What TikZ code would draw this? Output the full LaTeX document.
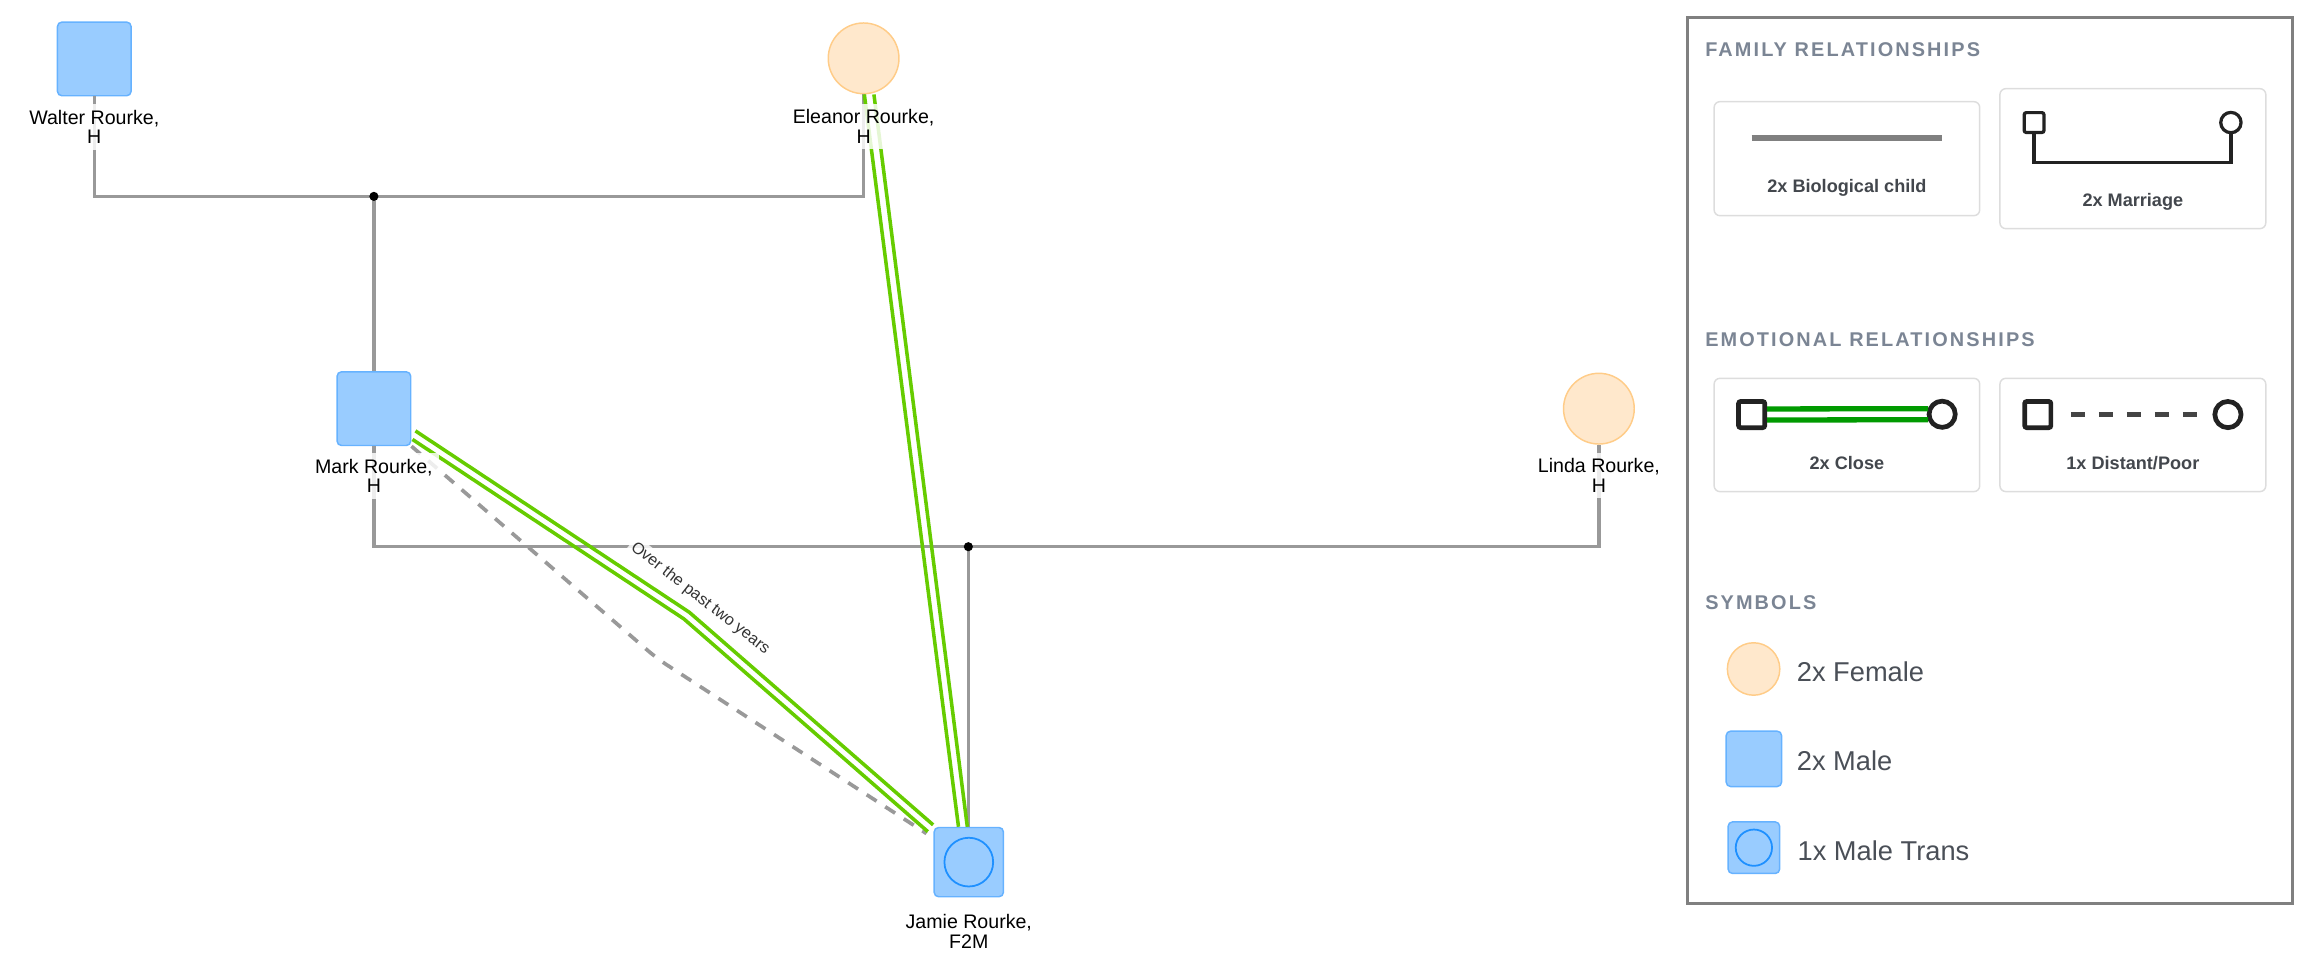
\documentclass[tikz,border=0pt]{standalone}
\usepackage{fontspec}
\setmainfont{Liberation Sans}
\newfontfamily\titlefont[LetterSpace=10.7]{Liberation Sans}
\usetikzlibrary{positioning,calc}
\definecolor{linegray}{HTML}{999999}
\definecolor{malefill}{HTML}{99CCFF}
\definecolor{maledraw}{HTML}{66B2FF}
\definecolor{femfill}{HTML}{FFE8CC}
\definecolor{femdraw}{HTML}{FFCC88}
\definecolor{transblue}{HTML}{1E90FF}
\definecolor{closegreen}{HTML}{66CC00}
\definecolor{leggreen}{HTML}{009A00}
\definecolor{titlegray}{HTML}{7B8594}
\definecolor{legtext}{HTML}{4A4F57}
\definecolor{cardtextc}{HTML}{43474D}
\definecolor{cardgray}{HTML}{DDDDDD}
\definecolor{darkline}{HTML}{222222}
\definecolor{framegray}{HTML}{808080}
\definecolor{distgray}{HTML}{444444}

\begin{document}
\begin{tikzpicture}[x=1pt,y=-1pt,
  male/.style={rectangle,draw=maledraw,fill=malefill,line width=1pt,rounded corners=3pt,minimum size=50pt,inner sep=0pt},
  female/.style={circle,draw=femdraw,fill=femfill,line width=1pt,minimum size=48pt,inner sep=0pt},
  transmale/.style={male,minimum size=#1,path picture={\draw[transblue,line width=1.2pt] (path picture bounding box.center) circle ({0.352*#1});}},
  plabel/.style={align=center,font=\fontsize{13.3}{13.2}\selectfont,fill=white,fill opacity=0.83,text opacity=1,inner sep=4pt},
  famline/.style={draw=linegray,line width=2.3pt},
  closeline/.style={draw=closegreen,line width=2.4pt,line join=round},
  distline/.style={draw=linegray,line width=2.5pt,dash pattern=on 8pt off 7pt,rounded corners=8pt},
  legtitle/.style={anchor=base west,inner sep=0pt,text=titlegray,font=\titlefont\bfseries\fontsize{13.5}{16}\selectfont},
  legcard/.style={draw=cardgray,line width=1pt,rounded corners=4pt,fill=white,inner sep=0pt},
  cardtext/.style={anchor=base,inner sep=0pt,text=cardtextc,font=\bfseries\fontsize{12.3}{14}\selectfont},
  legsq/.style={rectangle,draw=darkline,fill=white,rounded corners=1.5pt,inner sep=0pt},
  legci/.style={circle,draw=darkline,fill=white,inner sep=0pt},
  symtext/.style={anchor=base west,inner sep=0pt,text=legtext,font=\fontsize{18.5}{22}\selectfont}]
\useasboundingbox (0,0) rectangle (1568,665.2);

\node[male] (walter) at (64,40) {};
\node[female] (eleanor) at (586.2,39.6) {};
\node[male] (mark) at (253.8,277.4) {};
\node[female] (linda) at (1085.3,277.4) {};
\node[transmale=47pt] (jamie) at (657.6,585.2) {};

\coordinate (wed1) at (253.8,133.3);
\coordinate (wed2) at (657.3,371.1);
\draw[famline] (walter.south) |- (wed1) -| (eleanor.south);
\draw[famline] (wed1) -- (mark.north);
\draw[famline] (mark.south) |- (wed2) -| (linda.south);
\draw[famline] (wed2) -- (wed2 |- jamie.north);
\fill (wed1) circle (3.1pt);
\fill (wed2) circle (3.1pt);

\draw[closeline] ($(eleanor.south)+(0.5,0)$) -- ($(jamie.north)+(-7,0)$);
\draw[closeline] ($(eleanor.south)+(7,0)$) -- ($(jamie.north)+(-1,0)$);
\draw[distline] (mark.south east) -- (446,447) -- ($(jamie.north west)+(-4.7,4.6)$);
\draw[closeline] ($(mark.south east)+(2.7,-10.4)$) -- (467.9,415.6) -- ($(jamie.north west)+(-0.2,-1.3)$);
\draw[closeline] ($(mark.south east)+(0.7,-4.6)$) -- (464.2,420.1) -- ($(jamie.north west)+(-3.8,3.3)$);

\node[plabel,below=30.5pt of walter.center] (walterlbl) {Walter Rourke,\\H};
\node[plabel,below=30.5pt of eleanor.center] (eleanorlbl) {Eleanor Rourke,\\H};
\node[plabel,below=30pt of mark.center] (marklbl) {Mark Rourke,\\H};
\node[plabel,below=29.6pt of linda.center] (lindalbl) {Linda Rourke,\\H};
\node[plabel,below=31.3pt of jamie.center] (jamielbl) {Jamie Rourke,\\F2M};
\node[rotate=-38,fill=white,fill opacity=0.83,text opacity=1,inner sep=2pt,text=black!80,font=\fontsize{11}{13}\selectfont] (pastyrs) at (475.2,406.2) {Over the past two years};

\draw[framegray,line width=1.8pt] (1145.3,11.8) rectangle (1556,613.2);
\node[legtitle] (famtitle) at (1157.3,38.5) {FAMILY RELATIONSHIPS};
\node[legtitle] (emotitle) at (1157.3,235.3) {EMOTIONAL RELATIONSHIPS};
\node[legtitle] (symtitle) at (1157.3,413.6) {SYMBOLS};

\node[legcard,minimum width=180.3pt,minimum height=77.4pt] (cardbio) at (1253.65,107.7) {};
\node[legcard,minimum width=180.5pt,minimum height=95pt] (cardmar) at (1447.75,107.7) {};
\node[legcard,minimum width=180.3pt,minimum height=76.9pt] (cardclose) at (1253.65,295.25) {};
\node[legcard,minimum width=180.5pt,minimum height=76.9pt] (carddist) at (1447.75,295.25) {};

\draw[framegray,line width=3.9pt] (1189,93.5) -- (1318.5,93.5);
\node[cardtext] (biotxt) at (1253.65,130.8) {2x Biological child};

\node[legsq,line width=2.2pt,minimum size=13.5pt] (marsq) at (1380.7,83.2) {};
\node[legci,line width=2.2pt,minimum size=13.8pt] (marci) at (1514.3,83.2) {};
\draw[darkline,line width=2.2pt] (marsq.south) |- (1447.5,110.4) -| (marci.south);
\node[cardtext] (martxt) at (1447.75,140) {2x Marriage};

\node[legsq,line width=3.2pt,minimum size=17.8pt] (closesq) at (1189,281.4) {};
\node[legci,line width=3.2pt,minimum size=17.8pt] (closeci) at (1318.3,281.2) {};
\draw[leggreen,line width=3.6pt] ($(closesq.east)+(0,-3.8)$) -- ($(closeci.west)+(1,-3.8)$);
\draw[leggreen,line width=3.6pt] ($(closesq.east)+(0,3.7)$) -- ($(closeci.west)+(1,3.7)$);
\node[cardtext] (closetxt) at (1253.65,318.8) {2x Close};

\node[legsq,line width=3.2pt,minimum size=17.8pt] (distsq) at (1383.2,281.4) {};
\node[legci,line width=3.2pt,minimum size=17.8pt] (distci) at (1512.3,281.4) {};
\draw[distgray,line width=3.4pt,dash pattern=on 9.5pt off 9.5pt] ($(distsq.east)+(12,0.2)$) -- ($(distci.west)+(-10.6,0.2)$);
\node[cardtext] (disttxt) at (1447.75,318.8) {1x Distant/Poor};

\node[female,minimum size=35.6pt] (legfem) at (1190.3,454.1) {};
\node[symtext] (femtxt) at (1219.5,462.7) {2x Female};
\node[male,minimum size=37.6pt] (legmale) at (1190.5,515.1) {};
\node[symtext] (maletxt) at (1219.5,522.7) {2x Male};
\node[transmale=35pt] (legtrans) at (1190.5,575.4) {};
\node[symtext] (transtxt) at (1220,583.8) {1x Male Trans};
\end{tikzpicture}
\end{document}
